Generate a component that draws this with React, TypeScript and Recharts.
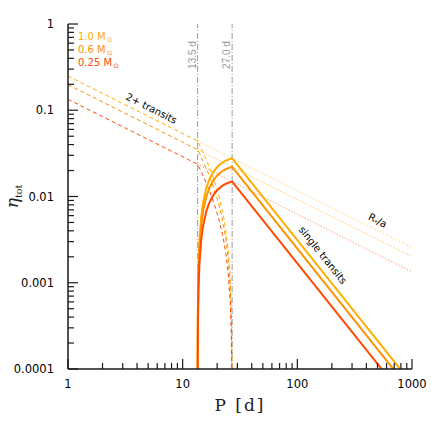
import React from 'react';
import { LineChart, Line, XAxis, YAxis, ReferenceLine, ReferenceDot, Legend } from 'recharts';

// ---------- data ----------
const MASS_LABELS = ['1.0', '0.6', '0.25'];
const COLORS = ['#FFAE00', '#FF9200', '#FF4B00'];

// 2+ transits (dashed)
const multiP = [1, 13.5, 14, 15, 16, 17, 18, 19, 20, 21, 22, 23, 24, 25, 26, 26.5, 26.8, 26.95, 27];
const multi10 = [0.249, 0.04391, 0.0398, 0.03275, 0.02696, 0.02215, 0.01813, 0.01472, 0.01183, 0.009345, 0.007209, 0.005354, 0.003741, 0.00233, 0.001091, 0.0005286, 0.0002075, 0.0000514, 0.0000001];
const multi06 = [0.198, 0.03492, 0.03165, 0.02604, 0.02144, 0.01762, 0.01441, 0.01171, 0.009405, 0.007431, 0.005732, 0.004257, 0.002975, 0.001853, 0.0008676, 0.0004203, 0.000165, 0.0000409, 0.0000001];
const multi025 = [0.134, 0.02363, 0.02142, 0.01763, 0.01451, 0.01192, 0.009755, 0.007923, 0.006365, 0.005029, 0.003879, 0.002881, 0.002013, 0.001254, 0.0005872, 0.0002845, 0.0001117, 0.0000277, 0.0000001];

// single transits (solid)
const singleP = [13.5, 13.52, 13.55, 13.6, 13.75, 14, 14.5, 15, 16, 17, 18, 19, 20, 21, 22, 23, 24, 25, 26, 27, 1000];
const single10 = [0.0000001, 0.00012978, 0.0003233, 0.0006426, 0.0015776, 0.0030617, 0.0057758, 0.0081876, 0.012255, 0.015507, 0.018127, 0.020245, 0.021966, 0.023365, 0.024506, 0.025433, 0.026187, 0.026792, 0.02728, 0.027667, 0.00006726];
const single06 = [0.0000001, 0.0001032, 0.00025708, 0.00051102, 0.0012545, 0.0024346, 0.0045928, 0.0065106, 0.0097448, 0.012331, 0.014414, 0.016099, 0.017467, 0.01858, 0.019486, 0.020224, 0.020824, 0.021305, 0.021693, 0.022, 0.00005348];
const single025 = [0.0000001, 0.000069843, 0.00017399, 0.00034584, 0.00084898, 0.0016477, 0.0031083, 0.0044062, 0.0065949, 0.0083454, 0.0097552, 0.010895, 0.011821, 0.012574, 0.013188, 0.013687, 0.014093, 0.014418, 0.014681, 0.014889, 0.00003619];

// R*/a (dotted)
const ratioP = [13.5, 1000];
const ratio10 = [0.04391, 0.00255];
const ratio06 = [0.03492, 0.00201];
const ratio025 = [0.02363, 0.00134];

// window markers
const MARKERS = [13.5, 27];
const MARKER_LABELS = ['13.5 d', '27.0 d'];

// ticks
const X_MAJOR = [1, 10, 100, 1000];
const X_TICKS = [1, 2, 3, 4, 5, 6, 7, 8, 9, 10, 20, 30, 40, 50, 60, 70, 80, 90, 100, 200, 300, 400, 500, 600, 700, 800, 900, 1000];
const Y_MAJOR = [0.0001, 0.001, 0.01, 0.1, 1];
const Y_TICKS = [0.0001, 0.0002, 0.0003, 0.0004, 0.0005, 0.0006, 0.0007, 0.0008, 0.0009, 0.001, 0.002, 0.003, 0.004, 0.005, 0.006, 0.007, 0.008, 0.009, 0.01, 0.02, 0.03, 0.04, 0.05, 0.06, 0.07, 0.08, 0.09, 0.1, 0.2, 0.3, 0.4, 0.5, 0.6, 0.7, 0.8, 0.9, 1];
const Y_LABELS = ['0.0001', '0.001', '0.01', '0.1', '1'];

// annotation anchors (data coordinates)
const ANNOT = [
  { text: '2+ transits', P: 5.35, v: 0.105, angle: 26.6 },
  { text: 'single transits', P: 167, v: 0.00209, angle: 51.4 },
];
const RSTAR = { P: 504, v: 0.00532, angle: 26.6 };

const build = (ps: number[], vs: number[]) => ps.map((p, i) => ({ P: p, v: vs[i] }));

const multiSeries = [build(multiP, multi10), build(multiP, multi06), build(multiP, multi025)];
const singleSeries = [build(singleP, single10), build(singleP, single06), build(singleP, single025)];
const ratioSeries = [build(ratioP, ratio10), build(ratioP, ratio06), build(ratioP, ratio025)];

const TICK_FONT = 'DejaVu Sans';
const FRAME = '#1a1a1a';

// ---------- tick renderers ----------
const BottomTick = (props: any) => {
  const { x, y, payload } = props;
  const major = X_MAJOR.includes(payload.value);
  return (
    <g>
      <line x1={x} x2={x} y1={y} y2={y - (major ? 10 : 6)} stroke={FRAME} strokeWidth={1.2} />
      {major && (
        <text x={x} y={y + 19} textAnchor="middle" fontFamily={TICK_FONT} fontSize={11.5} fill="#000">
          {String(payload.value)}
        </text>
      )}
    </g>
  );
};
const TopTick = (props: any) => {
  const { x, y, payload } = props;
  const major = X_MAJOR.includes(payload.value);
  return <line x1={x} x2={x} y1={y} y2={y + (major ? 10 : 6)} stroke={FRAME} strokeWidth={1.2} />;
};
const LeftTick = (props: any) => {
  const { x, y, payload } = props;
  const idx = Y_MAJOR.indexOf(payload.value);
  const major = idx >= 0;
  return (
    <g>
      <line x1={x} x2={x + (major ? 10 : 6)} y1={y} y2={y} stroke={FRAME} strokeWidth={1.2} />
      {major && (
        <text x={x - 14} y={y + 4} textAnchor="end" fontFamily={TICK_FONT} fontSize={11.5} fill="#000">
          {Y_LABELS[idx]}
        </text>
      )}
    </g>
  );
};
const RightTick = (props: any) => {
  const { x, y, payload } = props;
  const major = Y_MAJOR.includes(payload.value);
  return <line x1={x} x2={x - (major ? 10 : 6)} y1={y} y2={y} stroke={FRAME} strokeWidth={1.2} />;
};

// ---------- labels ----------
const XLabel = (props: any) => {
  const vb = props.viewBox;
  return (
    <text x={vb.x + vb.width / 2} y={vb.y + 42} textAnchor="middle" fontFamily="DejaVu Serif" fontSize={17} letterSpacing={2} fill="#222">
      P [d]
    </text>
  );
};
const YLabel = (props: any) => {
  const vb = props.viewBox;
  const cx = vb.x + 18;
  const cy = vb.y + vb.height / 2;
  return (
    <text x={cx} y={cy} transform={`rotate(-90, ${cx}, ${cy})`} textAnchor="middle" fill="#222" fontFamily="DejaVu Serif">
      <tspan fontSize={17} fontStyle="italic">η</tspan>
      <tspan fontSize={9.5} dy={4}>tot</tspan>
    </text>
  );
};
const markerLabel = (text: string) => (props: any) => {
  const vb = props.viewBox;
  const x = vb.x - 2;
  const y = vb.y + 31;
  return (
    <text x={x} y={y} transform={`rotate(-90, ${x}, ${y})`} textAnchor="middle" fontFamily="Liberation Sans" fontSize={10} fill="#999">
      {text}
    </text>
  );
};
const annotShape = (text: string, angle: number) => (props: any) => (
  <text
    x={props.cx}
    y={props.cy}
    transform={`rotate(${angle}, ${props.cx}, ${props.cy})`}
    textAnchor="middle"
    dominantBaseline="central"
    fontFamily={TICK_FONT}
    fontSize={10}
    fill="#000"
  >
    {text}
  </text>
);
const rstarShape = (props: any) => (
  <text
    x={props.cx}
    y={props.cy}
    transform={`rotate(${RSTAR.angle}, ${props.cx}, ${props.cy})`}
    textAnchor="middle"
    dominantBaseline="central"
    fontFamily={TICK_FONT}
    fontSize={10}
    fill="#000"
  >
    R<tspan fontSize={6} dy={2}>*</tspan>
    <tspan dy={-2}>/a</tspan>
  </text>
);

const LegendContent = () => (
  <div style={{ fontFamily: TICK_FONT, fontSize: 10, lineHeight: '12px' }}>
    {MASS_LABELS.map((m, i) => (
      <div key={m} style={{ color: COLORS[i], whiteSpace: 'nowrap' }}>
        {m} M<span style={{ fontSize: 7, position: 'relative', top: 2, marginLeft: 1 }}>⊙</span>
      </div>
    ))}
  </div>
);

export default function App() {
  return (
    <div style={{ position: 'absolute', left: 0, top: 0, width: 436, height: 436, background: '#fff' }}>
      <LineChart width={436} height={436} margin={{ top: 24, right: 24, bottom: 0, left: 0 }}>
        <XAxis
          xAxisId="b"
          dataKey="P"
          type="number"
          scale="log"
          domain={[1, 1000]}
          allowDataOverflow
          ticks={X_TICKS}
          interval={0}
          tick={<BottomTick />}
          tickLine={false}
          tickSize={0}
          tickMargin={0}
          height={67}
          axisLine={{ stroke: FRAME, strokeWidth: 1.5 }}
          label={<XLabel />}
        />
        <XAxis
          xAxisId="t"
          orientation="top"
          dataKey="P"
          type="number"
          scale="log"
          domain={[1, 1000]}
          allowDataOverflow
          ticks={X_TICKS}
          interval={0}
          tick={<TopTick />}
          tickLine={false}
          tickSize={0}
          tickMargin={0}
          height={0}
          axisLine={{ stroke: FRAME, strokeWidth: 1.5 }}
        />
        <YAxis
          yAxisId="l"
          type="number"
          scale="log"
          domain={[0.0001, 1]}
          allowDataOverflow
          ticks={Y_TICKS}
          interval={0}
          tick={<LeftTick />}
          tickLine={false}
          tickSize={0}
          tickMargin={0}
          width={68}
          axisLine={{ stroke: FRAME, strokeWidth: 1.5 }}
          label={<YLabel />}
        />
        <YAxis
          yAxisId="r"
          orientation="right"
          type="number"
          scale="log"
          domain={[0.0001, 1]}
          allowDataOverflow
          ticks={Y_TICKS}
          interval={0}
          tick={<RightTick />}
          tickLine={false}
          tickSize={0}
          tickMargin={0}
          width={0}
          axisLine={{ stroke: FRAME, strokeWidth: 1.5 }}
        />
        {MARKERS.map((m, i) => (
          <ReferenceLine
            key={'m' + m}
            xAxisId="b"
            yAxisId="l"
            x={m}
            stroke="#9a9a9a"
            strokeWidth={1}
            strokeDasharray="6 2 1 2"
            label={markerLabel(MARKER_LABELS[i])}
          />
        ))}
        {ratioSeries.map((d, i) => (
          <Line
            key={'r' + i}
            xAxisId="b"
            yAxisId="l"
            data={d}
            dataKey="v"
            type="linear"
            stroke={COLORS[i]}
            strokeOpacity={0.75}
            strokeWidth={1}
            strokeDasharray="1 2"
            dot={false}
            activeDot={false}
            isAnimationActive={false}
          />
        ))}
        {multiSeries.map((d, i) => (
          <Line
            key={'d' + i}
            xAxisId="b"
            yAxisId="l"
            data={d}
            dataKey="v"
            type="linear"
            stroke={COLORS[i]}
            strokeWidth={1}
            strokeDasharray="4 3"
            dot={false}
            activeDot={false}
            isAnimationActive={false}
          />
        ))}
        {singleSeries.map((d, i) => (
          <Line
            key={'s' + i}
            xAxisId="b"
            yAxisId="l"
            data={d}
            dataKey="v"
            type="linear"
            stroke={COLORS[i]}
            strokeWidth={2}
            dot={false}
            activeDot={false}
            isAnimationActive={false}
          />
        ))}
        {ANNOT.map((a) => (
          <ReferenceDot
            key={a.text}
            xAxisId="b"
            yAxisId="l"
            x={a.P}
            y={a.v}
            r={0}
            shape={annotShape(a.text, a.angle)}
          />
        ))}
        <ReferenceDot xAxisId="b" yAxisId="l" x={RSTAR.P} y={RSTAR.v} r={0} shape={rstarShape} />
        <Legend
          layout="vertical"
          align="center"
          verticalAlign="middle"
          content={<LegendContent />}
          wrapperStyle={{ position: 'absolute', left: 78, top: 31, width: 'auto', height: 'auto', margin: 0 }}
        />
      </LineChart>
    </div>
  );
}
